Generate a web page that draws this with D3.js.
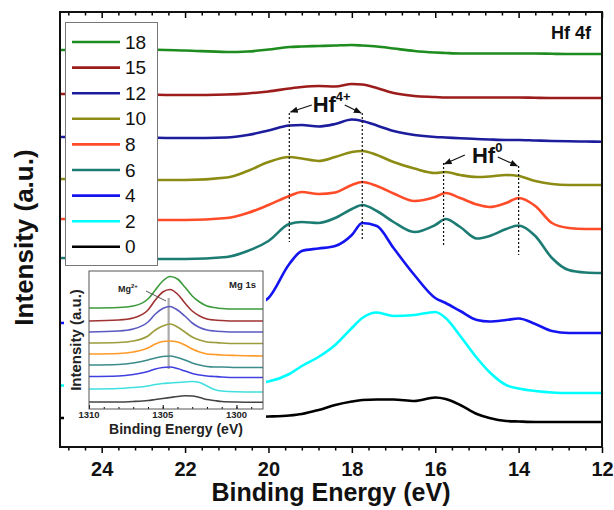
<!DOCTYPE html>
<html>
<head>
<meta charset="utf-8">
<script src="https://cdn.jsdelivr.net/npm/d3@7"></script>
<style>
  body { margin: 0; background: #fff; }
  text { font-family: "Liberation Sans", Arial, sans-serif; }
</style>
</head>
<body>
<div id="vis"></div>
<script>
// set the width and height
var width = 614;
var height = 510;

// main panel: Hf 4f region
var energy = [25, 24, 23, 22, 21, 20.5, 20, 19.5, 19.2, 18.8, 18.4, 18, 17.75, 17.4, 17,
    16.5, 16, 15.75, 15.4, 15, 14.7, 14.3, 14, 13.6, 13.2, 12.8, 12.4, 12];

var labels = ['18', '15', '12', '10', '8', '6', '4', '2', '0'];
var colours = ['#1e8c1e', '#9c1c1c', '#1c1c9c', '#8c8c14', '#ff4c28', '#1c7c74', '#1414f0', '#00ffff', '#000000'];

var s18 = [397, 397, 397.5, 396.5, 395, 395.5, 397.5, 400, 400.5, 401, 401.5, 402, 401.5, 400.5, 398.5,
    396, 394.5, 394, 393.5, 393.5, 393.5, 393.5, 393.5, 393.5, 393.2, 393, 393, 393];
var s15 = [353, 353, 352.5, 352, 352.5, 353.5, 355.5, 358.5, 360, 361, 360.5, 363, 362.5, 359, 354,
    351, 350, 349.5, 349.5, 349.5, 349.5, 349.5, 349.5, 349.2, 349, 349, 349, 349];
var s12 = [310, 310, 309.5, 309, 309.5, 312, 316.5, 321.5, 322, 320.5, 323, 327.5, 326, 321.5, 316,
    312, 310, 309.5, 308.7, 308, 307.5, 307, 307, 306.5, 306, 305.7, 305.5, 305.3];
var s10 = [268, 267.5, 267, 267, 269.5, 276, 285, 290, 288.5, 286, 290, 295, 296, 292, 285,
    278.5, 274, 275, 272, 270, 270.5, 272, 271, 266, 263, 262, 262, 262];
var s8 = [228, 227.5, 227, 227, 229, 234, 242, 251, 255, 253, 254.5, 262, 265, 261, 253.5,
    246, 250, 254, 249, 242.5, 240, 244, 249, 241, 224, 219, 218, 218];
var s6 = [189, 188.5, 188, 188, 190, 196, 206, 223, 225, 224, 229, 238, 242, 236, 225,
    215, 222, 228, 220, 208.5, 211, 218, 221.5, 211, 189, 177, 174.5, 174];
var s4 = [124, 124.5, 125.5, 128, 133, 139, 149, 183, 196, 198.5, 201, 212, 224, 221, 199,
    172, 149, 144, 136, 127, 125.5, 127, 128.5, 123, 116, 114, 114, 114];
var s2 = [61.5, 61, 61, 61.5, 62.5, 63.5, 65.5, 73, 81, 90, 102, 119, 129, 134.5, 131,
    132, 135, 129, 111, 89, 75, 62, 58.5, 56, 54.5, 54, 54, 54];
var s0 = [29, 29, 29, 29, 29.5, 30, 30.5, 31.5, 33, 37, 42, 45.5, 47, 47.5, 47.5,
    46, 49.5, 48, 42, 33, 29, 26, 25.5, 25, 25, 25, 25, 25];

var xTicks = [24, 22, 20, 18, 16, 14, 12];

// inset: Mg 1s region
var mgEnergy = [1310, 1308, 1307, 1306, 1305.5, 1305, 1304.5, 1304, 1303.5, 1303, 1302.5, 1302,
    1301.5, 1301, 1300, 1298.2];
var mgColours = ['#3c9a3c', '#a03232', '#5a5ac0', '#9c9c3c', '#ff9a28', '#3c8c8c', '#4040e0', '#40e0e0', '#444444'];

var m18 = [101, 101.5, 103, 110, 119, 128, 132.5, 130, 122, 113, 107, 103, 101.5, 100.5, 100, 100];
var m15 = [88, 89, 91, 99, 109, 117, 119.5, 115, 106, 98, 93, 90, 89, 88.5, 88, 88];
var m12 = [77, 78, 80, 87, 95, 100.5, 102.5, 99, 93, 86, 81.5, 79, 78, 77.5, 77, 77];
var m10 = [66, 66.5, 68, 73, 79, 83, 85, 82, 77, 72, 69, 67, 66.5, 66, 65.5, 65.5];
var m8 = [55, 55.5, 57, 61, 65, 67.5, 68, 67, 64, 60, 57, 55, 54.5, 54, 53.5, 53];
var m6 = [44, 44.5, 46, 49, 51, 52.5, 53, 51.5, 49, 46, 44, 42.5, 42, 42, 41.5, 41.5];
var m4 = [32.5, 33, 34.5, 37.5, 40, 41.5, 42, 40.5, 38, 35.5, 34, 33, 32.5, 32, 31.5, 31.5];
var m2 = [20, 20.5, 21.5, 23, 24.5, 25.5, 26, 26.5, 27, 27.5, 26.5, 23, 19.5, 18, 17.3, 17];
var m0 = [7, 7, 7.5, 8.5, 9.5, 10.5, 11.5, 12.5, 13.2, 13, 11.5, 9.5, 8.5, 7.5, 7, 6.7];

var mgTicks = [1310, 1305, 1300];

var series = [s18, s15, s12, s10, s8, s6, s4, s2, s0];
var mgSeries = [m18, m15, m12, m10, m8, m6, m4, m2, m0];

var margin = {
    top: 12,
    bottom: 63,
    left: 60,
    right: 12
};

var svg = d3.select('#vis')
    .append('svg')
    .attr('width', width)
    .attr('height', height);

svg.append('rect')
    .attr('width', width)
    .attr('height', height)
    .attr('fill', '#fff');

var w = width - margin.left - margin.right;
var h = height - margin.top - margin.bottom;

var g = svg.append('g')
    .attr('transform', 'translate(' + margin.left + ',' + margin.top + ')');

var x_scale = d3.scaleLinear()
    .domain([25, 12])
    .range([0, w]);

var y_scale = d3.scaleLinear()
    .domain([0, 435])
    .range([h, 0]);

var line = d3.line()
    .x(function(d) { return x_scale(d[0]); })
    .y(function(d) { return y_scale(d[1]); })
    .curve(d3.curveMonotoneX);

series.forEach(function(s, i) {
    g.append('path')
        .datum(energy.map(function(e, j) { return [e, s[j]]; }))
        .attr('fill', 'none')
        .attr('stroke', colours[i])
        .attr('stroke-width', 2.6)
        .attr('stroke-linejoin', 'round')
        .attr('d', line);
});

// axes
var minor = d3.range(24.8, 11.9, -0.4).filter(function(v) {
    return Math.abs(v / 2 - Math.round(v / 2)) > 0.01;
});

var x_axis = d3.axisBottom(x_scale)
    .tickValues(xTicks)
    .tickSize(6)
    .tickPadding(9)
    .tickFormat(d3.format('d'));

var bottom = g.append('g')
    .attr('class', 'x axis')
    .attr('transform', 'translate(0,' + h + ')')
    .call(x_axis);
bottom.select('.domain').remove();
bottom.selectAll('line').attr('stroke-width', 1.5);
bottom.selectAll('text')
    .attr('font-size', 20)
    .attr('font-weight', 'bold')
    .attr('fill', '#111');

g.append('g')
    .attr('transform', 'translate(0,' + h + ')')
    .call(d3.axisBottom(x_scale).tickValues(minor).tickSize(3.5).tickFormat(''))
    .call(function(a) { a.select('.domain').remove(); a.selectAll('line').attr('stroke-width', 1.5); });

// top axis, ticks inside
g.append('g')
    .call(d3.axisBottom(x_scale).tickValues(xTicks).tickSize(6).tickFormat(''))
    .call(function(a) { a.select('.domain').remove(); a.selectAll('line').attr('stroke-width', 1.5); });
g.append('g')
    .call(d3.axisBottom(x_scale).tickValues(minor).tickSize(3.5).tickFormat(''))
    .call(function(a) { a.select('.domain').remove(); a.selectAll('line').attr('stroke-width', 1.5); });

g.append('rect')
    .attr('width', w)
    .attr('height', h)
    .attr('fill', 'none')
    .attr('stroke', '#111')
    .attr('stroke-width', 2);

svg.append('text')
    .attr('text-anchor', 'middle')
    .attr('x', margin.left + w / 2)
    .attr('y', 501)
    .attr('font-size', 25)
    .attr('font-weight', 'bold')
    .attr('fill', '#111')
    .text('Binding Energy (eV)');

svg.append('text')
    .attr('text-anchor', 'middle')
    .attr('transform', 'translate(33,' + (margin.top + h / 2 + 8) + ') rotate(-90)')
    .attr('font-size', 26)
    .attr('font-weight', 'bold')
    .attr('fill', '#111')
    .text('Intensity (a.u.)');

svg.append('text')
    .attr('text-anchor', 'end')
    .attr('x', 591)
    .attr('y', 39)
    .attr('font-size', 18)
    .attr('font-weight', 'bold')
    .attr('fill', '#111')
    .text('Hf 4f');

// legend
var legend = svg.append('g');
legend.append('rect')
    .attr('x', 65.5)
    .attr('y', 22.5)
    .attr('width', 92)
    .attr('height', 243)
    .attr('fill', '#fff')
    .attr('stroke', '#777')
    .attr('stroke-width', 1);

labels.forEach(function(l, i) {
    var ly = 42 + i * 25.6;
    legend.append('line')
        .attr('x1', 72).attr('x2', 120)
        .attr('y1', ly).attr('y2', ly)
        .attr('stroke', colours[i])
        .attr('stroke-width', 2.6);
    legend.append('text')
        .attr('x', 125)
        .attr('y', ly)
        .attr('dy', '0.35em')
        .attr('font-size', 19)
        .attr('fill', '#111')
        .text(l);
});

// annotations
var defs = svg.append('defs');
defs.append('marker')
    .attr('id', 'arr')
    .attr('viewBox', '0 0 10 10')
    .attr('refX', 9).attr('refY', 5)
    .attr('markerWidth', 8).attr('markerHeight', 8)
    .attr('markerUnits', 'userSpaceOnUse')
    .attr('orient', 'auto')
    .append('path')
    .attr('d', 'M0,1L10,5L0,9Z')
    .attr('fill', '#111');

var guides = [[19.5, 334, 205], [17.75, 334, 207], [15.8, 284, 200], [14.0, 281, 192]];
guides.forEach(function(d) {
    g.append('line')
        .attr('x1', x_scale(d[0])).attr('x2', x_scale(d[0]))
        .attr('y1', y_scale(d[1])).attr('y2', y_scale(d[2]))
        .attr('stroke', '#111')
        .attr('stroke-width', 1.2)
        .attr('stroke-dasharray', '2,2');
});

var arrows = [[18.96, 342, 19.47, 335], [18.17, 342, 17.78, 334],
    [15.29, 292, 15.78, 283], [14.5, 290, 14.03, 281]];
arrows.forEach(function(d) {
    g.append('line')
        .attr('x1', x_scale(d[0])).attr('y1', y_scale(d[1]))
        .attr('x2', x_scale(d[2])).attr('y2', y_scale(d[3]))
        .attr('stroke', '#111')
        .attr('stroke-width', 1.2)
        .attr('marker-end', 'url(#arr)');
});

function ionLabel(e, v, sup) {
    var t = g.append('text')
        .attr('x', x_scale(e))
        .attr('y', y_scale(v))
        .attr('font-size', 22)
        .attr('font-weight', 'bold')
        .attr('fill', '#111');
    t.append('tspan').text('Hf');
    t.append('tspan')
        .attr('font-size', 13)
        .attr('dy', -11)
        .text(sup);
}
ionLabel(18.94, 335, '4+');
ionLabel(15.12, 284, '0');

// inset
var inset = { left: 89, top: 271, right: 263, bottom: 409 };

svg.append('rect')
    .attr('x', 64)
    .attr('y', 267)
    .attr('width', 202)
    .attr('height', 177)
    .attr('fill', '#fff');

var ix = d3.scaleLinear()
    .domain([1310, 1298.2])
    .range([inset.left, inset.right]);

var iy = d3.scaleLinear()
    .domain([0, 138])
    .range([inset.bottom, inset.top]);

var iline = d3.line()
    .x(function(d) { return ix(d[0]); })
    .y(function(d) { return iy(d[1]); })
    .curve(d3.curveMonotoneX);

// Mg2+ marker line
svg.append('line')
    .attr('x1', ix(1304.6)).attr('x2', ix(1304.6))
    .attr('y1', 298).attr('y2', 369)
    .attr('stroke', '#aaa')
    .attr('stroke-width', 2.2);

mgSeries.forEach(function(s, i) {
    svg.append('path')
        .datum(mgEnergy.map(function(e, j) { return [e, s[j]]; }))
        .attr('fill', 'none')
        .attr('stroke', mgColours[i])
        .attr('stroke-width', 1.6)
        .attr('d', iline);
});

var ib = svg.append('g')
    .attr('transform', 'translate(0,' + inset.bottom + ')');
ib.call(d3.axisTop(ix).tickValues(mgTicks).tickSize(4).tickFormat(''));
ib.call(function(a) { a.select('.domain').remove(); });
svg.append('g')
    .attr('transform', 'translate(0,' + inset.bottom + ')')
    .call(d3.axisTop(ix).tickValues(d3.range(1309, 1298, -1)).tickSize(2).tickFormat(''))
    .call(function(a) { a.select('.domain').remove(); });

mgTicks.forEach(function(t) {
    svg.append('text')
        .attr('x', ix(t))
        .attr('y', 418)
        .attr('text-anchor', 'middle')
        .attr('font-size', 9.5)
        .attr('font-weight', 'bold')
        .attr('fill', '#222')
        .text(t);
});

svg.append('rect')
    .attr('x', inset.left)
    .attr('y', inset.top)
    .attr('width', inset.right - inset.left)
    .attr('height', inset.bottom - inset.top)
    .attr('fill', 'none')
    .attr('stroke', '#555')
    .attr('stroke-width', 1);

svg.append('text')
    .attr('x', (inset.left + inset.right) / 2)
    .attr('y', 434)
    .attr('text-anchor', 'middle')
    .attr('font-size', 14)
    .attr('font-weight', 'bold')
    .attr('fill', '#222')
    .text('Binding Energy (eV)');

svg.append('text')
    .attr('text-anchor', 'middle')
    .attr('transform', 'translate(81,' + ((inset.top + inset.bottom) / 2) + ') rotate(-90)')
    .attr('font-size', 15)
    .attr('font-weight', 'bold')
    .attr('fill', '#222')
    .text('Intensity (a.u.)');

svg.append('text')
    .attr('x', 256)
    .attr('y', 288)
    .attr('text-anchor', 'end')
    .attr('font-size', 9.5)
    .attr('font-weight', 'bold')
    .attr('fill', '#222')
    .text('Mg 1s');

var mg = svg.append('text')
    .attr('x', 118)
    .attr('y', 292)
    .attr('font-size', 9)
    .attr('font-weight', 'bold')
    .attr('fill', '#222');
mg.append('tspan').text('Mg');
mg.append('tspan').attr('font-size', 6).attr('dy', -4).text('2+');

svg.append('line')
    .attr('x1', 146).attr('y1', 291)
    .attr('x2', 166).attr('y2', 301)
    .attr('stroke', '#555')
    .attr('stroke-width', 1);
</script>
</body>
</html>
